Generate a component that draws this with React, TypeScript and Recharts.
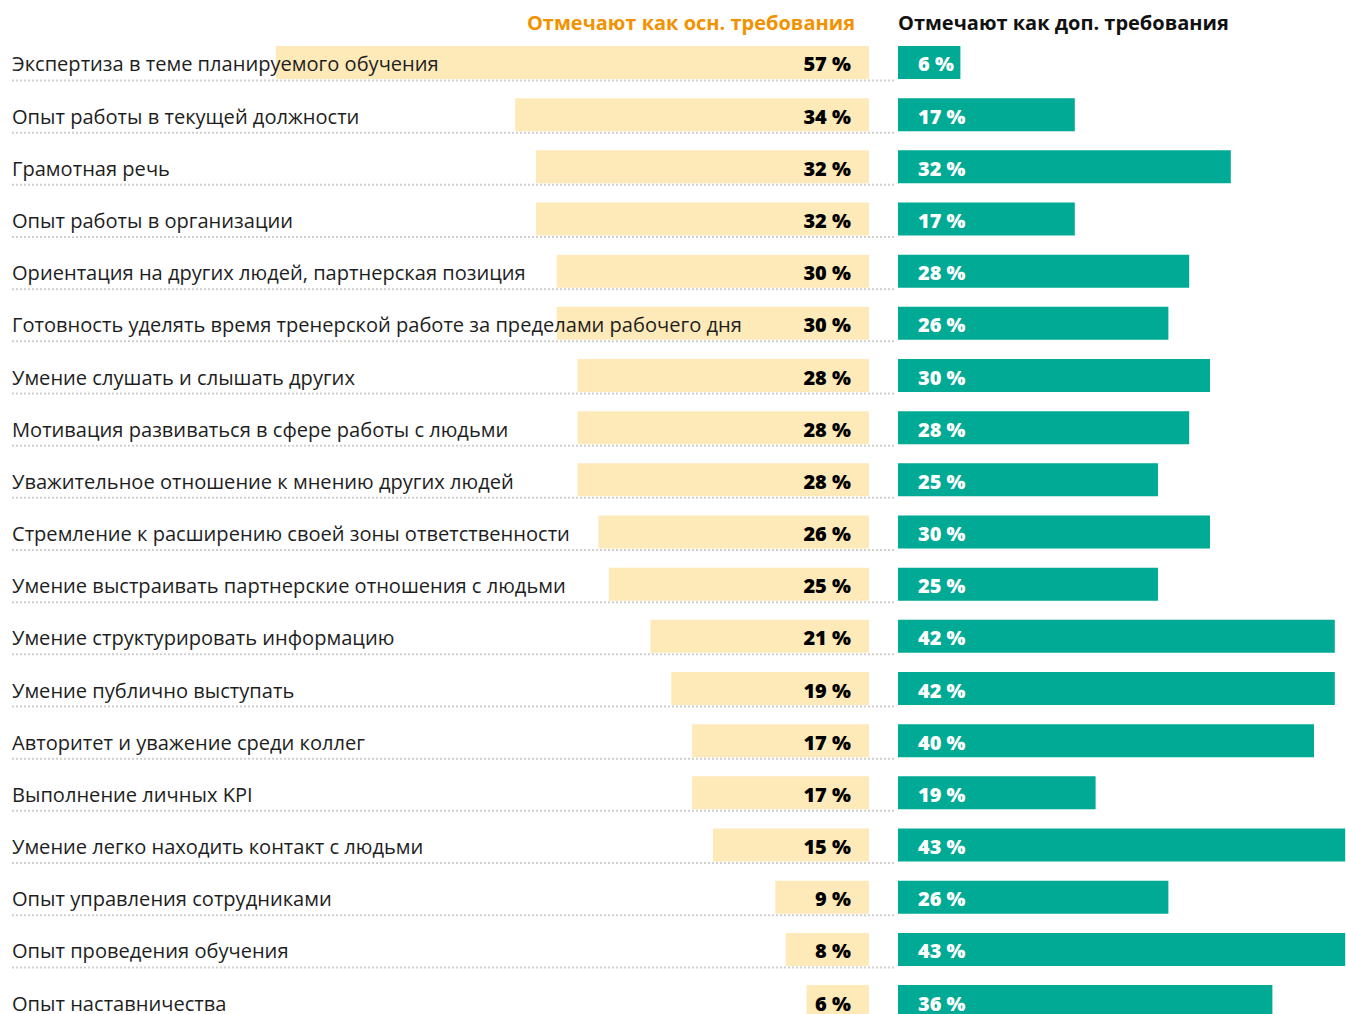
import React from 'react';
import { BarChart, Bar, XAxis, YAxis, LabelList } from 'recharts';

const categories = [
  'Экспертиза в теме планируемого обучения',
  'Опыт работы в текущей должности',
  'Грамотная речь',
  'Опыт работы в организации',
  'Ориентация на других людей, партнерская позиция',
  'Готовность уделять время тренерской работе за пределами рабочего дня',
  'Умение слушать и слышать других',
  'Мотивация развиваться в сфере работы с людьми',
  'Уважительное отношение к мнению других людей',
  'Стремление к расширению своей зоны ответственности',
  'Умение выстраивать партнерские отношения с людьми',
  'Умение структурировать информацию',
  'Умение публично выступать',
  'Авторитет и уважение среди коллег',
  'Выполнение личных KPI',
  'Умение легко находить контакт с людьми',
  'Опыт управления сотрудниками',
  'Опыт проведения обучения',
  'Опыт наставничества',
];

const mainValues = [57, 34, 32, 32, 30, 30, 28, 28, 28, 26, 25, 21, 19, 17, 17, 15, 9, 8, 6];
const extraValues = [6, 17, 32, 17, 28, 26, 30, 28, 25, 30, 25, 42, 42, 40, 19, 43, 26, 43, 36];

const mainTitle = 'Отмечают как осн. требования';
const extraTitle = 'Отмечают как доп. требования';

const data = categories.map((name, i) => ({ name, main: mainValues[i], extra: extraValues[i] }));

const FONT = '"Open Sans", "Segoe UI", sans-serif';
const TOP = 36;
const ROW = 52.17;
const BOTTOM = 10;
const CHART_H = TOP + ROW * categories.length + BOTTOM;

// bar box from label props (left side is reversed, so width may be negative)
const box = (p: any) => {
  const vb = p.viewBox || {};
  const x = p.x ?? vb.x;
  const y = p.y ?? vb.y;
  const w = p.width ?? vb.width;
  const h = p.height ?? vb.height;
  return { left: Math.min(x, x + w), right: Math.max(x, x + w), y: Number(y), h: Number(h) };
};

const CategoryLabel = (props: any) => {
  const b = box(props);
  return (
    <g>
      <line x1={12} x2={896} y1={b.y + b.h + 1.5} y2={b.y + b.h + 1.5}
        stroke="#cfcfcf" strokeWidth={2} strokeDasharray="2 2" />
      <text x={12} y={b.y + b.h / 2 + 1.5} dominantBaseline="central" fontFamily={FONT}
        fontSize={20.1} fill="#1e1e1e">{props.value}</text>
    </g>
  );
};

const MainValue = (props: any) => {
  const b = box(props);
  return (
    <text x={b.right - 18} y={b.y + b.h / 2 + 1.5} textAnchor="end" dominantBaseline="central"
      fontFamily={FONT} fontWeight={800} fontSize={20} fill="#000">{props.value} %</text>
  );
};

const ExtraValue = (props: any) => {
  const b = box(props);
  return (
    <text x={b.left + 20} y={b.y + b.h / 2 + 1.5} dominantBaseline="central"
      fontFamily={FONT} fontWeight={800} fontSize={20} fill="#fff">{props.value} %</text>
  );
};

export default function App() {
  return (
    <div style={{ position: 'absolute', left: 0, top: 0, width: 1346, height: 1014, overflow: 'hidden', background: '#fff' }}>
      <div style={{ position: 'absolute', left: 0, top: 0 }}>
        <BarChart width={898} height={CHART_H} data={data} layout="vertical"
          margin={{ top: TOP, right: 29, bottom: BOTTOM, left: 0 }}>
          <XAxis type="number" domain={[0, 83.5]} reversed hide />
          <YAxis type="category" dataKey="name" hide />
          <Bar dataKey="main" fill="#fee9b8" barSize={33} isAnimationActive={false}>
            <LabelList dataKey="name" content={CategoryLabel} />
            <LabelList dataKey="main" content={MainValue} />
          </Bar>
        </BarChart>
      </div>
      <div style={{ position: 'absolute', left: 898, top: 0 }}>
        <BarChart width={520} height={CHART_H} data={data} layout="vertical"
          margin={{ top: TOP, right: 0, bottom: BOTTOM, left: 0 }}>
          <XAxis type="number" domain={[0, 50]} hide />
          <YAxis type="category" dataKey="name" hide />
          <Bar dataKey="extra" fill="#00aa95" barSize={33} isAnimationActive={false}>
            <LabelList dataKey="extra" content={ExtraValue} />
          </Bar>
        </BarChart>
      </div>
      <div style={{ position: 'absolute', right: 1346 - 855, top: 9, fontFamily: FONT, fontWeight: 700,
        fontSize: 20, color: '#f39200', whiteSpace: 'nowrap' }}>{mainTitle}</div>
      <div style={{ position: 'absolute', left: 898, top: 9, fontFamily: FONT, fontWeight: 700,
        fontSize: 20, color: '#111', whiteSpace: 'nowrap' }}>{extraTitle}</div>
    </div>
  );
}
